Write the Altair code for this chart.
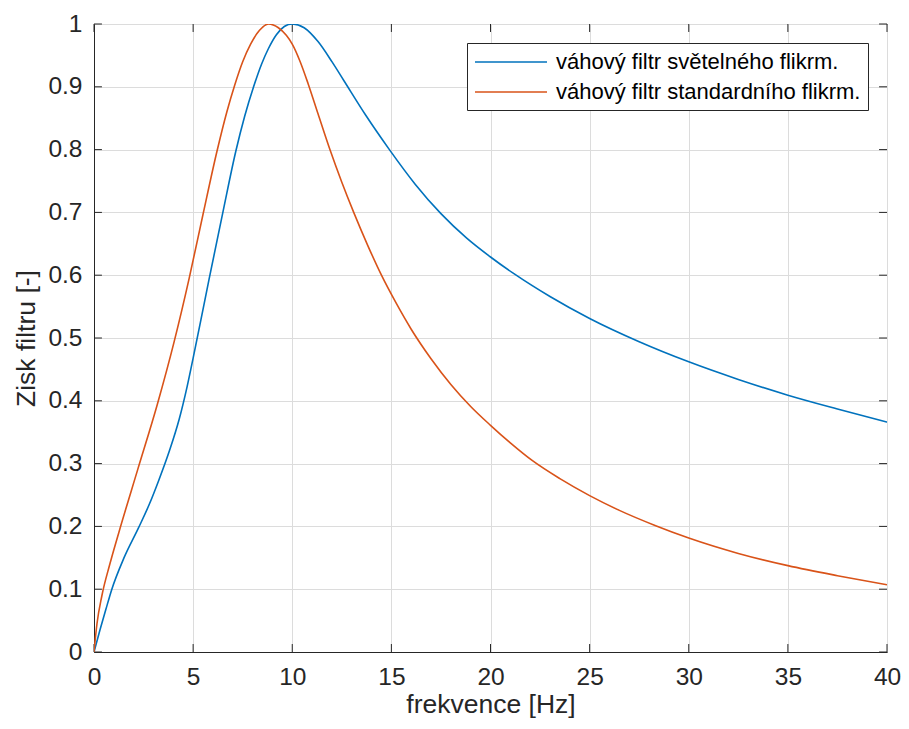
import altair as alt
import pandas as pd

# Light flicker weighting filter (blue)
freq_light = [0, 0.3, 0.6, 0.9, 1.5, 2.25, 2.8, 3.25, 3.8, 4.3, 4.7, 5.0, 5.4, 5.8, 6.5,
              7.15, 7.6, 8.05, 8.45, 8.8, 9.2, 9.6, 10.0, 10.6, 11.3, 12.0, 12.6, 13.7,
              14.9, 16.2, 17.5, 18.8, 20.0, 21.2, 23.0, 25.0, 27.5, 30.0, 32.5, 35.0,
              37.5, 40.0]
gain_light = [0, 0.035, 0.068, 0.1, 0.149, 0.198, 0.236, 0.272, 0.32, 0.371, 0.423, 0.468,
              0.53, 0.593, 0.7, 0.797, 0.853, 0.9, 0.936, 0.961, 0.983, 0.996, 1.0, 0.994,
              0.972, 0.94, 0.91, 0.855, 0.8, 0.745, 0.698, 0.659, 0.629, 0.602, 0.566,
              0.531, 0.494, 0.462, 0.434, 0.409, 0.387, 0.366]

# Standard flicker weighting filter (orange)
freq_std = [0, 0.15, 0.4, 0.8, 1.25, 2.2, 3.2, 4.05, 4.8, 5.5, 6.2, 6.7, 7.1, 7.5, 7.9,
            8.35, 8.8, 9.3, 9.7, 10.0, 10.4, 10.8, 11.3, 11.9, 12.5, 13.1, 13.8, 14.5,
            15.25, 16.0, 17.0, 18.0, 19.0, 20.0, 21.0, 22.1, 23.5, 25.0, 26.5, 28.3,
            30.0, 32.5, 35.0, 37.5, 40.0]
gain_std = [0, 0.045, 0.09, 0.14, 0.19, 0.29, 0.395, 0.495, 0.595, 0.697, 0.797, 0.86,
            0.903, 0.94, 0.968, 0.99, 1.0, 0.994, 0.982, 0.968, 0.94, 0.905, 0.857, 0.8,
            0.748, 0.7, 0.648, 0.6, 0.555, 0.514, 0.467, 0.426, 0.391, 0.361, 0.333,
            0.305, 0.276, 0.249, 0.2255, 0.2015, 0.1815, 0.157, 0.1375, 0.1215, 0.107]

series_names = ["váhový filtr světelného flikrm.", "váhový filtr standardního flikrm."]
series_colors = ["#0072BD", "#D95319"]

x_ticks = [0, 5, 10, 15, 20, 25, 30, 35, 40]
y_ticks = [0, 0.1, 0.2, 0.3, 0.4, 0.5, 0.6, 0.7, 0.8, 0.9, 1.0]

df = pd.concat([
    pd.DataFrame({"f": freq_light, "g": gain_light, "s": series_names[0], "o": 0}),
    pd.DataFrame({"f": freq_std, "g": gain_std, "s": series_names[1], "o": 1}),
])

FONT = "Liberation Sans"
AX = "#262626"

xscale = alt.Scale(domain=[0, 40], nice=False, zero=False)
yscale = alt.Scale(domain=[0, 1], nice=False, zero=False)

lines = alt.Chart(df).mark_line(strokeWidth=1.6, interpolate="monotone", clip=True).encode(
    x=alt.X("f:Q", scale=xscale,
            axis=alt.Axis(title="frekvence [Hz]", values=x_ticks, grid=True,
                          ticks=False, labelPadding=13, titlePadding=3,
                          labelFlush=False,
                          labelFontSize=24.5, titleFontSize=26.5, format="d")),
    y=alt.Y("g:Q", scale=yscale,
            axis=alt.Axis(title="Zisk filtru [-]", values=y_ticks, grid=True,
                          ticks=False, labelPadding=12, titlePadding=7,
                          labelFlush=False,
                          labelFontSize=24.5, titleFontSize=26.5, format=".1~f")),
    color=alt.Color("s:N", scale=alt.Scale(domain=series_names, range=series_colors),
                    legend=alt.Legend(title=None, orient="top-right", offset=19,
                                      labelFontSize=22, symbolType="M-1,0H5.545",
                                      symbolSize=484, symbolStrokeWidth=1.6,
                                      labelOffset=58, rowPadding=7, padding=7,
                                      fillColor="white", strokeColor=AX,
                                      labelLimit=500)),
    order="o:Q",
    detail="s:N",
)

tick_len_y = 0.0127
tick_len_x = 0.4

xt = pd.DataFrame({"t": x_ticks})
yt = pd.DataFrame({"t": y_ticks})

bottom_ticks = alt.Chart(xt).mark_rule(color=AX, strokeWidth=1).encode(
    x=alt.X("t:Q", scale=xscale), y=alt.datum(0, scale=yscale), y2=alt.datum(tick_len_y))
top_ticks = alt.Chart(xt).mark_rule(color=AX, strokeWidth=1).encode(
    x=alt.X("t:Q", scale=xscale), y=alt.datum(1 - tick_len_y, scale=yscale), y2=alt.datum(1))
left_ticks = alt.Chart(yt).mark_rule(color=AX, strokeWidth=1).encode(
    y=alt.Y("t:Q", scale=yscale), x=alt.datum(0, scale=xscale), x2=alt.datum(tick_len_x))
right_ticks = alt.Chart(yt).mark_rule(color=AX, strokeWidth=1).encode(
    y=alt.Y("t:Q", scale=yscale), x=alt.datum(40 - tick_len_x, scale=xscale), x2=alt.datum(40))

chart = alt.layer(bottom_ticks, top_ticks, left_ticks, right_ticks, lines).properties(
    width=793, height=628,
    autosize=alt.AutoSizeParams(type="none"),
    padding={"left": 86, "top": 16, "right": 14, "bottom": 69},
).configure(font=FONT).configure_view(
    stroke=AX, strokeWidth=1
).configure_axis(
    gridColor="#dcdcdc", gridWidth=1, domainColor=AX, domainWidth=1,
    labelColor="#262626", titleColor="#262626", labelFont=FONT, titleFont=FONT,
    titleFontWeight="normal"
).configure_legend(
    labelFont=FONT, labelColor="#000000"
)

chart.save("out.html", embed_options={"renderer": "svg", "actions": False})
